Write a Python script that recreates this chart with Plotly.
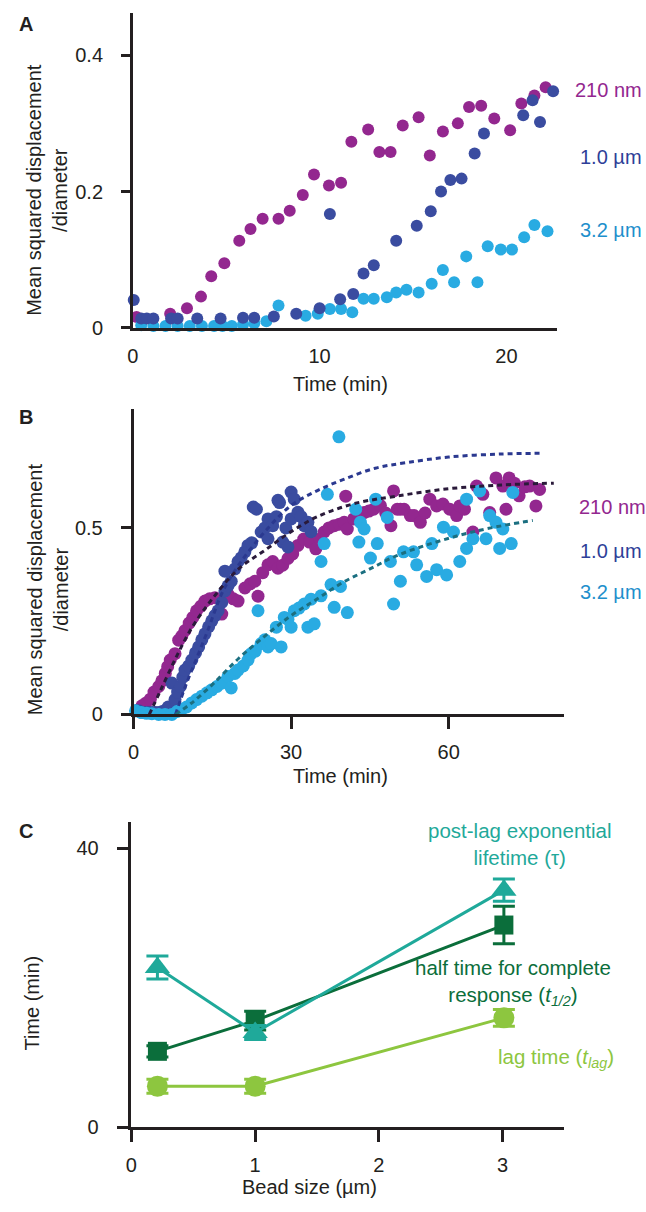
import plotly.graph_objects as go

W, H = 646, 1212

# ---- panel A: first 22 min ----
a_210_t = [0.2, 2.0, 2.9, 3.65, 4.2, 4.9, 5.7, 6.3, 6.95, 7.8, 8.4, 9.1, 9.7, 10.5, 11.15, 11.7, 12.6, 13.2, 13.8,
           14.45, 15.3, 15.9, 16.6, 17.4, 18.0, 18.65, 19.35, 20.2, 20.8, 21.5, 22.1]
a_210_v = [0.016, 0.021, 0.029, 0.046, 0.076, 0.095, 0.128, 0.145, 0.160, 0.160, 0.172, 0.195, 0.225, 0.209, 0.213,
           0.273, 0.291, 0.258, 0.258, 0.297, 0.309, 0.253, 0.288, 0.300, 0.324, 0.326, 0.307, 0.290, 0.329, 0.341, 0.353]

a_1um_t = [0.05, 0.45, 0.75, 1.1, 2.05, 2.4, 3.45, 4.7, 5.9, 6.5, 7.55, 8.75, 10.0, 10.55, 11.1, 11.8, 12.35, 12.9,
           14.1, 15.2, 15.95, 16.5, 17.0, 17.6, 18.3, 18.8, 20.9, 21.4, 21.8, 22.5]
a_1um_v = [0.041, 0.014, 0.014, 0.014, 0.014, 0.014, 0.014, 0.014, 0.015, 0.015, 0.017, 0.021, 0.029, 0.167, 0.042,
           0.050, 0.080, 0.092, 0.128, 0.150, 0.171, 0.200, 0.217, 0.219, 0.256, 0.285, 0.312, 0.334, 0.302, 0.347]

a_32um_t = [0.45, 1.1, 1.75, 2.4, 3.05, 3.7, 4.35, 4.8, 5.3, 5.9, 6.5, 7.15, 7.8, 9.25, 9.9, 10.55, 11.15, 11.75,
            12.35, 12.9, 13.6, 14.1, 14.65, 15.3, 16.0, 16.6, 17.2, 17.85, 18.45, 19.0, 19.7, 20.3, 20.95, 21.5, 22.2]
a_32um_v = [0.004, 0.003, 0.003, 0.003, 0.003, 0.003, 0.003, 0.003, 0.003, 0.005, 0.007, 0.010, 0.033, 0.018, 0.021,
            0.028, 0.028, 0.023, 0.043, 0.043, 0.045, 0.052, 0.056, 0.052, 0.065, 0.085, 0.067, 0.105, 0.067, 0.120,
            0.115, 0.115, 0.133, 0.151, 0.142]

# ---- panel B: full 80 min ----
b_210_t = [1.0, 1.6, 2.3, 3.2, 3.9, 4.8, 5.4, 6.05, 6.5, 7.0, 7.9, 8.6, 9.2, 9.8, 10.6, 11.3, 12.0, 12.8, 13.6, 14.5,
           15.5, 16.8, 18.0, 19.0, 19.9, 21.2, 22.2, 23.1, 23.7, 24.6, 25.6, 26.5, 27.5, 28.4, 29.4, 30.3, 31.3, 32.4,
           33.5, 34.7, 35.5, 36.3, 37.2, 38.2, 39.2, 40.1, 40.4, 40.7, 41.9, 43.0, 43.9, 44.8, 45.7, 47.0, 48.0, 49.0,
           49.5, 50.2, 50.8, 51.5, 52.7, 53.4, 54.6, 55.5, 56.4, 57.7, 58.9, 60.2, 61.5, 62.1, 63.0, 64.6, 65.3, 66.5,
           67.8, 69.0, 70.3, 70.9, 71.5, 72.5, 73.4, 74.5, 75.4, 76.6, 77.3]
b_210_v = [0.012, 0.023, 0.030, 0.041, 0.060, 0.075, 0.090, 0.110, 0.128, 0.146, 0.163, 0.199, 0.210, 0.225, 0.245,
           0.260, 0.278, 0.290, 0.304, 0.310, 0.313, 0.269, 0.322, 0.310, 0.304, 0.339, 0.350, 0.357, 0.317, 0.380,
           0.401, 0.410, 0.392, 0.400, 0.418, 0.430, 0.453, 0.470, 0.462, 0.444, 0.470, 0.489, 0.500, 0.506, 0.510,
           0.515, 0.585, 0.497, 0.524, 0.530, 0.541, 0.545, 0.550, 0.560, 0.540, 0.506, 0.599, 0.550, 0.550, 0.550,
           0.533, 0.533, 0.515, 0.540, 0.577, 0.559, 0.564, 0.550, 0.533, 0.559, 0.550, 0.489, 0.612, 0.590, 0.541,
           0.634, 0.612, 0.550, 0.634, 0.620, 0.586, 0.610, 0.612, 0.559, 0.603]

b_1um_t = [0.5, 1.0, 1.7, 2.3, 3.0, 3.6, 4.2, 4.9, 5.5, 6.05, 6.6, 7.3, 7.9, 8.4, 8.9, 9.4, 9.8, 10.5, 11.1, 11.8,
           12.4, 13.0, 13.6, 14.3, 14.9, 15.5, 16.1, 16.8, 17.4, 17.4, 18.0, 18.6, 19.3, 19.9, 20.5, 21.2, 21.8, 22.5,
           22.8, 23.4, 24.3, 25.0, 25.6, 25.6, 26.5, 27.2, 27.5, 27.8, 28.4, 29.0, 29.4, 30.0, 30.0, 30.6, 31.3, 31.9,
           32.5, 33.2, 33.8]
b_1um_v = [0.010, 0.010, 0.005, 0.005, 0.005, 0.005, 0.005, 0.005, 0.008, 0.010, 0.020, 0.084, 0.040, 0.060, 0.075,
           0.100, 0.119, 0.130, 0.146, 0.165, 0.181, 0.200, 0.216, 0.235, 0.251, 0.265, 0.278, 0.300, 0.331, 0.384,
           0.345, 0.357, 0.390, 0.410, 0.420, 0.436, 0.453, 0.460, 0.556, 0.550, 0.489, 0.500, 0.524, 0.471, 0.506,
           0.530, 0.574, 0.568, 0.462, 0.500, 0.449, 0.524, 0.596, 0.577, 0.542, 0.530, 0.506, 0.515, 0.490]

b_32um_t = [0.4, 1.5, 2.5, 3.5, 4.8, 6.0, 7.3, 8.3, 9.2, 10.1, 11.1, 12.0, 13.0, 14.0, 14.9, 15.9, 16.8, 18.0, 18.6,
            19.3, 19.9, 20.9, 21.8, 22.4, 23.2, 23.7, 24.3, 25.0, 25.6, 26.2, 27.2, 28.1, 28.7, 29.4, 30.0, 30.6, 31.5,
            32.5, 33.2, 33.8, 34.4, 35.7, 35.7, 36.3, 36.9, 37.6, 38.2, 39.1, 39.4, 40.7, 42.3, 42.9, 43.2, 43.9, 45.1,
            46.1, 46.4, 48.3, 48.9, 49.5, 50.8, 51.4, 53.3, 53.9, 55.8, 56.8, 57.7, 59.0, 59.6, 60.9, 62.1, 63.4, 63.4,
            64.6, 65.9, 67.1, 67.8, 69.0, 69.7, 70.3, 71.9, 72.2]
b_32um_v = [0.010, 0.005, 0.003, 0.002, 0.000, 0.000, 0.000, 0.008, 0.014, 0.020, 0.031, 0.040, 0.049, 0.058, 0.066,
            0.075, 0.084, 0.102, 0.071, 0.110, 0.119, 0.130, 0.146, 0.163, 0.170, 0.278, 0.190, 0.200, 0.181, 0.190,
            0.234, 0.181, 0.260, 0.255, 0.234, 0.278, 0.285, 0.296, 0.234, 0.309, 0.243, 0.318, 0.410, 0.458, 0.590,
            0.348, 0.287, 0.744, 0.343, 0.273, 0.550, 0.462, 0.515, 0.497, 0.419, 0.577, 0.458, 0.528, 0.410, 0.296,
            0.357, 0.436, 0.436, 0.401, 0.370, 0.458, 0.388, 0.502, 0.374, 0.489, 0.410, 0.445, 0.577, 0.471, 0.599,
            0.471, 0.533, 0.515, 0.445, 0.497, 0.458, 0.595]

# dotted fit curves
fit_210_t = [3, 5, 8, 11, 15, 20, 25, 30, 35, 42, 50, 60, 70, 80]
fit_210_v = [0.0, 0.06, 0.15, 0.23, 0.31, 0.39, 0.44, 0.49, 0.53, 0.565, 0.585, 0.605, 0.615, 0.62]
fit_1um_t = [8, 10, 12, 14, 17, 20, 25, 30, 35, 40, 46, 52, 60, 70, 78]
fit_1um_v = [0.0, 0.08, 0.15, 0.22, 0.33, 0.40, 0.49, 0.56, 0.60, 0.63, 0.66, 0.675, 0.69, 0.698, 0.70]
fit_32um_t = [8, 11, 15, 20, 25, 30, 35, 40, 45, 50, 56, 62, 68, 76]
fit_32um_v = [0.0, 0.03, 0.08, 0.15, 0.21, 0.265, 0.31, 0.355, 0.39, 0.425, 0.455, 0.48, 0.50, 0.52]

# ---- panel C: time constants vs bead size ----
bead_size = [0.21, 1.0, 3.01]
tau = [22.9, 13.6, 34.0]
tau_err = [1.65, 1.0, 1.6]
t_half = [10.9, 15.3, 29.0]
t_half_err = [0.8, 1.35, 2.7]
t_lag = [5.9, 5.9, 15.7]
t_lag_err = [1.0, 1.0, 1.2]

purple = '#93278f'
blue = '#3a4ca0'
lightblue = '#29abe2'
teal = '#1fa99a'
darkgreen = '#0b6e3b'
lightgreen = '#8dc63f'
ink = '#231f20'
font = 'Arial, Liberation Sans, sans-serif'


def fx(p):
    return p / W


def fy(p):
    return 1 - p / H


fig = go.Figure()

for t, v, c in [(a_210_t, a_210_v, purple), (a_32um_t, a_32um_v, lightblue), (a_1um_t, a_1um_v, blue)]:
    fig.add_trace(go.Scatter(x=t, y=v, mode='markers', marker=dict(color=c, size=12),
                             cliponaxis=False, xaxis='x', yaxis='y'))

for t, v, c in [(b_210_t, b_210_v, purple), (b_1um_t, b_1um_v, blue), (b_32um_t, b_32um_v, lightblue)]:
    fig.add_trace(go.Scatter(x=t, y=v, mode='markers', marker=dict(color=c, size=13),
                             cliponaxis=False, xaxis='x2', yaxis='y2'))

for t, v, c in [(fit_1um_t, fit_1um_v, '#2b3990'), (fit_210_t, fit_210_v, '#2a1a3a'),
                (fit_32um_t, fit_32um_v, '#1b6f80')]:
    fig.add_trace(go.Scatter(x=t, y=v, mode='lines', line=dict(color=c, width=3, dash='5px,4px', shape='spline'),
                             xaxis='x2', yaxis='y2'))

for v, e, c, sym, sz in [(t_lag, t_lag_err, lightgreen, 'circle', 21),
                         (t_half, t_half_err, darkgreen, 'square', 19),
                         (tau, tau_err, teal, 'triangle-up', 22)]:
    fig.add_trace(go.Scatter(x=bead_size, y=v, mode='lines+markers',
                             line=dict(color=c, width=3), marker=dict(color=c, size=sz, symbol=sym),
                             error_y=dict(type='data', array=e, color=c, thickness=3, width=11),
                             cliponaxis=False, xaxis='x3', yaxis='y3'))

axis_common = dict(showline=True, linecolor=ink, linewidth=2.5, showgrid=False, zeroline=False,
                   tickcolor=ink, tickwidth=2.5, tickfont=dict(family=font, size=20, color=ink))

fig.update_layout(
    width=W, height=H, margin=dict(l=0, r=0, t=0, b=0),
    paper_bgcolor='white', plot_bgcolor='white', showlegend=False,
    xaxis=dict(axis_common, domain=[fx(128), fx(556)], range=[0, 22.7], tickvals=[0, 10, 20],
               ticks='', ticklabelstandoff=8, anchor='y'),
    yaxis=dict(axis_common, domain=[fy(331), fy(13)], range=[0, 0.462], tickvals=[0, 0.2, 0.4],
               ticktext=['0', '0.2', '0.4'], ticks='outside', ticklen=9, ticklabelstandoff=14, anchor='x'),
    xaxis2=dict(axis_common, domain=[fx(128.7), fx(563)], range=[0, 81.9], tickvals=[0, 30, 60],
                ticks='outside', ticklen=12, ticklabelstandoff=6, anchor='y2'),
    yaxis2=dict(axis_common, domain=[fy(721), fy(413)], range=[0, 0.818], tickvals=[0, 0.5],
                ticktext=['0', '0.5'], ticks='outside', ticklen=10, ticklabelstandoff=14, anchor='x2'),
    xaxis3=dict(axis_common, domain=[fx(126.6), fx(563)], range=[0, 3.494], tickvals=[0, 1, 2, 3],
                ticks='outside', ticklen=12, ticklabelstandoff=6, anchor='y3'),
    yaxis3=dict(axis_common, domain=[fy(1137.7), fy(830)], range=[0, 43.7], tickvals=[0, 40],
                ticks='outside', ticklen=12, ticklabelstandoff=14, anchor='x3'),
)

notes = [
    ('A', 20, 24, ink, 20, True, 0, 'center'),
    ('B', 20, 421, ink, 20, True, 0, 'center'),
    ('C', 20, 839, ink, 20, True, 0, 'center'),
    ('Mean squared displacement<br>/diameter', 42, 192, ink, 20, False, -90, 'center'),
    ('Mean squared displacement<br>/diameter', 42, 595, ink, 20, False, -90, 'center'),
    ('Time (min)', 26, 1012, ink, 20, False, -90, 'center'),
    ('Time (min)', 338, 388, ink, 20, False, 0, 'center'),
    ('Time (min)', 338, 783, ink, 20, False, 0, 'center'),
    ('Bead size (µm)', 306, 1198, ink, 20, False, 0, 'center'),
    ('210 nm', 572, 91, purple, 20, False, 0, 'left'),
    ('1.0 µm', 577, 158, '#2e3f98', 20, False, 0, 'left'),
    ('3.2 µm', 577, 232, '#1e8fcc', 20, False, 0, 'left'),
    ('210 nm', 576, 512, purple, 20, False, 0, 'left'),
    ('1.0 µm', 577, 556, '#2e3f98', 20, False, 0, 'left'),
    ('3.2 µm', 577, 597, '#1e8fcc', 20, False, 0, 'left'),
    ('post-lag exponential<br>lifetime (τ)', 519, 852, teal, 20.5, False, 0, 'center'),
    ('half time for complete<br>response (<i>t<sub>1/2</sub></i>)', 512, 991, darkgreen, 20.5, False, 0, 'center'),
    ('lag time (<i>t<sub>lag</sub></i>)', 555, 1068, lightgreen, 20.5, False, 0, 'center'),
]
for text, x, y, c, s, bold, ang, anchor in notes:
    if bold:
        text = '<b>' + text + '</b>'
    fig.add_annotation(text=text, x=fx(x), y=fy(y), xref='paper', yref='paper', showarrow=False,
                       xanchor=anchor, yanchor='middle', textangle=ang, align='center',
                       font=dict(family=font, size=s, color=c))

# page body has a default 8px margin, drop it so the figure sits at the corner
fig.write_html('out.html', config={'displayModeBar': False},
               post_script="document.body.style.margin='0';")
